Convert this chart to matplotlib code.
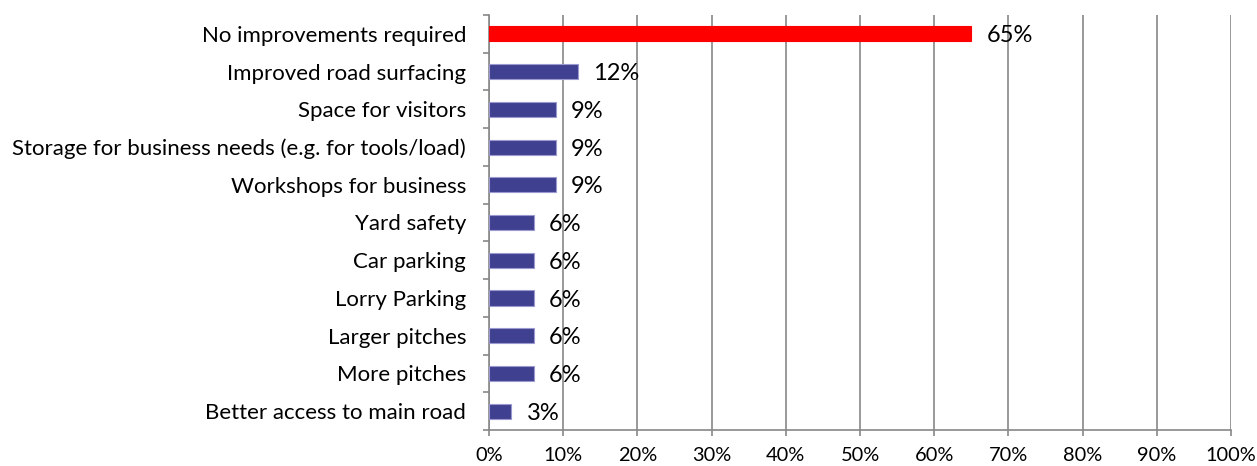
import matplotlib
matplotlib.use("Agg")
import matplotlib.pyplot as plt
from matplotlib.ticker import FixedLocator, FuncFormatter

categories = [
    "No improvements required",
    "Improved road surfacing",
    "Space for visitors",
    "Storage for business needs (e.g. for tools/load)",
    "Workshops for business",
    "Yard safety",
    "Car parking",
    "Lorry Parking",
    "Larger pitches",
    "More pitches",
    "Better access to main road",
]
values = [65, 12, 9, 9, 9, 6, 6, 6, 6, 6, 3]
x_ticks = [0, 10, 20, 30, 40, 50, 60, 70, 80, 90, 100]

FONT = "Lato"
plt.rcParams['font.family'] = [FONT, 'DejaVu Sans']

fig = plt.figure(figsize=(12.57, 4.66), dpi=100)
ax = fig.add_axes([489/1257, 1-430/466, (1231-489)/1257, (430-15)/466])

n = len(categories)
ys = list(range(n))
colors = ['#FF0000'] + ['#404090'] * (n - 1)
edges = ['#FF0000'] + ['#9a9ad0'] * (n - 1)
ax.barh(ys, values, height=0.4, color=colors, edgecolor=edges, linewidth=0.8, zorder=3)

for y, v in zip(ys, values):
    ax.annotate(f"{v}%", (v, y), xytext=(11, -1.5), textcoords='offset points',
                ha='left', va='center', fontsize=17, color='black', zorder=4)

ax.set_xlim(0, 100)
ax.set_ylim(n - 0.5, -0.5)

ax.xaxis.set_major_locator(FixedLocator(x_ticks))
ax.xaxis.set_major_formatter(FuncFormatter(lambda v, p: f"{int(v)}%"))
ax.tick_params(axis='x', length=4.5, width=1.2, color='#888888', labelsize=14.4, pad=8)

ax.yaxis.set_major_locator(FixedLocator([i - 0.5 for i in range(n + 1)]))
ax.yaxis.set_major_formatter(FuncFormatter(lambda v, p: ""))
ax.yaxis.set_minor_locator(FixedLocator(ys))
ax.set_yticklabels(categories, minor=True)
ax.tick_params(axis='y', which='major', length=4.5, width=1.2, color='#888888')
ax.tick_params(axis='y', which='minor', length=0, labelsize=16, pad=16.5)

for s in ['top', 'right']:
    ax.spines[s].set_visible(False)
for s in ['left', 'bottom']:
    ax.spines[s].set_color('#888888')
    ax.spines[s].set_linewidth(1.2)

ax.grid(axis='x', color='#888888', linewidth=1.2, zorder=0)
ax.set_axisbelow(True)

fig.savefig("out.png", dpi=100)
